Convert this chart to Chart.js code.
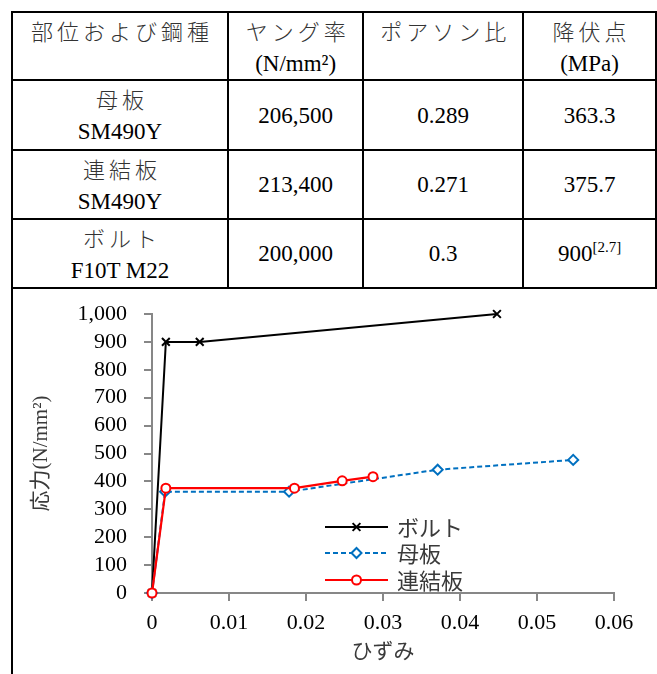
<!DOCTYPE html>
<html><head><meta charset="utf-8">
<script src="https://cdn.jsdelivr.net/npm/chart.js@4.4.0/dist/chart.umd.min.js"></script>
<style>
html,body{margin:0;padding:0;background:#fff;width:657px;height:674px;overflow:hidden;position:relative;}
#props{position:absolute;left:11px;top:11px;border-collapse:collapse;table-layout:fixed;font-size:23px;color:#000;}
#props td,#props th{border:2px solid #000;text-align:center;padding:0;line-height:31px;font-weight:normal;}
#props th{vertical-align:top;padding-top:2px;}
#props td{vertical-align:middle;}
.jp{font-family:'Noto Sans CJK JP',sans-serif;font-size:22px;letter-spacing:4px;color:#333;font-weight:300;padding-left:4px;}
sup{font-size:15px;vertical-align:9px;line-height:0;}
#chartCell{position:absolute;left:11px;top:288px;width:2px;height:400px;background:#000;}
#wrap{position:absolute;left:13px;top:290px;width:644px;height:384px;}
</style>
</head><body>
<table id="props"></table>
<div id="chartCell"></div>
<div id="wrap"><canvas id="c"></canvas></div>
<script>
// ---- table content ----
const headLabels = ['部位および鋼種', 'ヤング率', 'ポアソン比', '降伏点'];
const headUnits = ['', '(N/mm²)', '', '(MPa)'];
const partNames = ['母板', '連結板', 'ボルト'];
const steelGrades = ['SM490Y', 'SM490Y', 'F10T M22'];
const youngModulus = ['206,500', '213,400', '200,000'];
const poissonRatio = ['0.289', '0.271', '0.3'];
const yieldPoint = ['363.3', '375.7', '900'];
const yieldNote = ['', '', '[2.7]'];

// ---- chart data ----
const seriesNames = ['ボルト', '母板', '連結板'];
const strainBolt = [0, 0.0018, 0.0062, 0.0448];
const stressBolt = [0, 900, 900, 1000];
const strainBase = [0, 0.0017, 0.0178, 0.0371, 0.0547];
const stressBase = [0, 363.3, 363.3, 442, 477];
const strainLink = [0, 0.0018, 0.0185, 0.0247, 0.0287];
const stressLink = [0, 375.7, 375.7, 402, 417];
const xTickValues = [0, 0.01, 0.02, 0.03, 0.04, 0.05, 0.06];
const yTickValues = [0, 100, 200, 300, 400, 500, 600, 700, 800, 900, 1000];
const xTitle = 'ひずみ';
const yTitle = '応力(N/mm²)';

const FAM = "'Liberation Serif', 'Noto Sans CJK JP', serif";

// build table
(function(){
  const t = document.getElementById('props');
  t.style.fontFamily = FAM;
  const widths = [220, 137, 163, 135];
  const cg = document.createElement('colgroup');
  widths.forEach(w => { const c = document.createElement('col'); c.style.width = w + 'px'; cg.appendChild(c); });
  t.appendChild(cg);
  const hr = document.createElement('tr'); hr.style.height = '68px';
  headLabels.forEach((h, i) => {
    const th = document.createElement('th');
    th.innerHTML = '<span class="jp">' + h + '</span>' + (headUnits[i] ? '<br>' + headUnits[i] : '');
    hr.appendChild(th);
  });
  t.appendChild(hr);
  const rh = [70, 69, 69];
  partNames.forEach((p, i) => {
    const tr = document.createElement('tr'); tr.style.height = rh[i] + 'px';
    const cells = [
      '<span class="jp">' + p + '</span><br>' + steelGrades[i],
      youngModulus[i], poissonRatio[i],
      yieldPoint[i] + (yieldNote[i] ? '<sup>' + yieldNote[i] + '</sup>' : '')
    ];
    cells.forEach(h => { const td = document.createElement('td'); td.innerHTML = h; tr.appendChild(td); });
    t.appendChild(tr);
  });
})();

const pts = (xs, ys) => xs.map((x, i) => ({x: x, y: ys[i]}));

const legendPlugin = {
  id: 'innerLegend',
  afterDatasetsDraw(chart) {
    const ctx = chart.ctx;
    const ca = chart.chartArea;
    const x0 = ca.left + 173, x1 = ca.left + 236, tx = ca.left + 245;
    const rows = [ca.top + 213, ca.top + 239, ca.top + 266];
    chart.data.datasets.forEach((ds, i) => {
      const y = rows[i];
      ctx.save();
      ctx.strokeStyle = ds.borderColor; ctx.lineWidth = ds.borderWidth;
      ctx.setLineDash(ds.borderDash || []);
      ctx.beginPath(); ctx.moveTo(x0, y); ctx.lineTo(x1, y); ctx.stroke();
      ctx.setLineDash([]);
      ctx.fillStyle = ds.pointBackgroundColor; ctx.strokeStyle = ds.pointBorderColor;
      ctx.lineWidth = ds.pointBorderWidth;
      Chart.helpers.drawPoint(ctx, {pointStyle: ds.pointStyle, radius: ds.pointRadius, borderWidth: ds.pointBorderWidth, rotation: 0}, (x0 + x1) / 2, y);
      ctx.fillStyle = '#3a3a3a';
      ctx.font = "22px 'Noto Sans CJK JP', sans-serif";
      ctx.textBaseline = 'middle'; ctx.textAlign = 'left';
      ctx.fillText(ds.label, tx, y + 1);
      ctx.restore();
    });
  }
};

const axisGrid = {display: true, drawOnChartArea: false, drawTicks: true, tickLength: 8, color: '#878787', lineWidth: 2};
const axisBorder = {display: true, color: '#878787', width: 2};

new Chart(document.getElementById('c'), {
  type: 'scatter',
  data: {
    datasets: [
      {label: seriesNames[0], data: pts(strainBolt, stressBolt), showLine: true, borderColor: '#000000', borderWidth: 2,
       pointStyle: 'crossRot', pointRadius: 5.5, pointBorderWidth: 2, pointBorderColor: '#000000', pointBackgroundColor: '#000000', order: 2, clip: false},
      {label: seriesNames[1], data: pts(strainBase, stressBase), showLine: true, borderColor: '#0070C0', borderWidth: 2, borderDash: [5, 3],
       pointStyle: 'rectRot', pointRadius: 5, pointBorderWidth: 2, pointBorderColor: '#0070C0', pointBackgroundColor: '#ffffff', order: 1, clip: false},
      {label: seriesNames[2], data: pts(strainLink, stressLink), showLine: true, borderColor: '#FF0000', borderWidth: 2.2,
       pointStyle: 'circle', pointRadius: 4.5, pointBorderWidth: 2, pointBorderColor: '#FF0000', pointBackgroundColor: '#ffffff', order: 0, clip: false}
    ]
  },
  options: {
    responsive: true, maintainAspectRatio: false, animation: false,
    layout: {padding: {left: 0, right: 43, top: 24, bottom: 0}},
    plugins: {legend: {display: false}, tooltip: {enabled: false}},
    scales: {
      x: {
        type: 'linear', min: 0, max: 0.06,
        afterBuildTicks: s => { s.ticks = xTickValues.map(v => ({value: v})); },
        afterFit: s => { s.height = 81; s.paddingLeft = 0; s.paddingRight = 0; },
        ticks: {color: '#000', font: {family: FAM, size: 22}, padding: 9, maxRotation: 0, autoSkip: false,
                callback: v => String(+(+v).toFixed(2))},
        title: {display: true, text: xTitle, color: '#3a3a3a', font: {family: FAM, size: 21}, padding: {top: 0, bottom: 9}},
        grid: axisGrid, border: axisBorder
      },
      y: {
        type: 'linear', min: 0, max: 1000,
        afterBuildTicks: s => { s.ticks = yTickValues.map(v => ({value: v})); },
        afterFit: s => { s.width = 139; s.paddingTop = 0; s.paddingBottom = 0; },
        ticks: {color: '#000', font: {family: FAM, size: 22}, padding: 17, autoSkip: false,
                callback: v => Number(v).toLocaleString('en-US')},
        title: {display: true, text: yTitle, color: '#3a3a3a', font: {family: FAM, size: 21}, padding: {top: 16, bottom: 0}},
        grid: axisGrid, border: axisBorder
      }
    }
  },
  plugins: [legendPlugin]
});
</script>
</body></html>
